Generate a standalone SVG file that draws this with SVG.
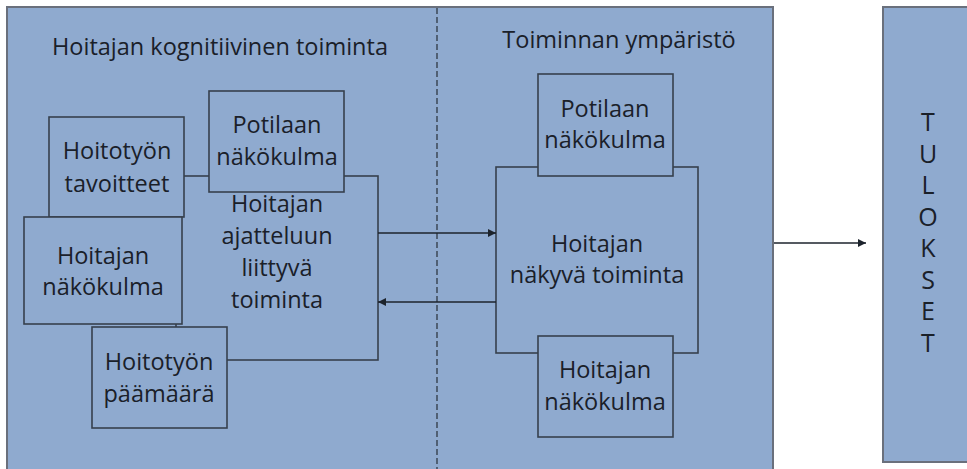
<svg xmlns="http://www.w3.org/2000/svg" width="967" height="469" viewBox="0 0 967 469">
  <defs>
    <marker id="arrow" viewBox="0 0 10 10" refX="10" refY="5" markerWidth="9" markerHeight="8" markerUnits="userSpaceOnUse" orient="auto">
      <path d="M0,0 L10,5 L0,10 z" fill="#1c232c"/>
    </marker>
  </defs>
  <style>
    .panel { fill: #8faacf; stroke: #6a707c; stroke-width: 2; }
    .box { fill: #8faacf; stroke: #36404d; stroke-width: 1.6; }
    .lbl { font-family: "Open Sans", "Noto Sans", sans-serif; font-size: 23.5px; fill: #1a2029; text-anchor: middle; }
    .letter { font-size: 25px; }
    .conn { stroke: #1c232c; stroke-width: 1.3; fill: none; }
    .divider { stroke: #36404d; stroke-width: 1.4; stroke-dasharray: 6 3; }
  </style>
  <rect width="967" height="469" fill="#ffffff"/>

  <!-- main panel -->
  <g id="panel">
    <rect class="panel" x="7" y="7" width="766" height="470"/>
    <line class="divider" x1="437" y1="8" x2="437" y2="469"/>
    <text class="lbl" x="220" y="55">Hoitajan kognitiivinen toiminta</text>
    <text class="lbl" x="619" y="48">Toiminnan ympäristö</text>
  </g>

  <!-- left side: cognitive activity -->
  <g id="ajattelu">
    <rect class="box" x="176" y="176" width="202" height="184"/>
    <text class="lbl" x="277" y="212">Hoitajan</text>
    <text class="lbl" x="277" y="244">ajatteluun</text>
    <text class="lbl" x="277" y="276">liittyvä</text>
    <text class="lbl" x="277" y="308">toiminta</text>
  </g>
  <g id="tavoitteet">
    <rect class="box" x="49" y="117" width="135" height="100"/>
    <text class="lbl" x="117" y="159">Hoitotyön</text>
    <text class="lbl" x="117" y="192">tavoitteet</text>
  </g>
  <g id="potilas-vasen">
    <rect class="box" x="209" y="91" width="135" height="101"/>
    <text class="lbl" x="277" y="133">Potilaan</text>
    <text class="lbl" x="277" y="165">näkökulma</text>
  </g>
  <g id="hoitaja-vasen">
    <rect class="box" x="24" y="217" width="158" height="107"/>
    <text class="lbl" x="103" y="264">Hoitajan</text>
    <text class="lbl" x="103" y="295">näkökulma</text>
  </g>
  <g id="paamaara">
    <rect class="box" x="92" y="327" width="135" height="101"/>
    <text class="lbl" x="159" y="370">Hoitotyön</text>
    <text class="lbl" x="159" y="402">päämäärä</text>
  </g>

  <!-- right side: environment -->
  <g id="nakyva">
    <rect class="box" x="496" y="167" width="202" height="186"/>
    <text class="lbl" x="597" y="252">Hoitajan</text>
    <text class="lbl" x="597" y="283">näkyvä toiminta</text>
  </g>
  <g id="potilas-oikea">
    <rect class="box" x="538" y="74" width="135" height="102"/>
    <text class="lbl" x="605" y="117">Potilaan</text>
    <text class="lbl" x="605" y="148">näkökulma</text>
  </g>
  <g id="hoitaja-oikea">
    <rect class="box" x="538" y="336" width="135" height="101"/>
    <text class="lbl" x="605" y="378">Hoitajan</text>
    <text class="lbl" x="605" y="410">näkökulma</text>
  </g>

  <!-- results -->
  <g id="tulokset">
    <rect class="panel" x="883" y="7" width="86" height="455"/>
    <text class="lbl letter" x="928" y="131">T</text>
    <text class="lbl letter" x="928" y="163">U</text>
    <text class="lbl letter" x="928" y="194">L</text>
    <text class="lbl letter" x="928" y="226">O</text>
    <text class="lbl letter" x="928" y="257">K</text>
    <text class="lbl letter" x="928" y="289">S</text>
    <text class="lbl letter" x="928" y="320">E</text>
    <text class="lbl letter" x="928" y="352">T</text>
  </g>

  <!-- connectors -->
  <g id="connectors">
    <line class="conn" x1="378" y1="233" x2="496" y2="233" marker-end="url(#arrow)"/>
    <line class="conn" x1="496" y1="302" x2="378" y2="302" marker-end="url(#arrow)"/>
    <line class="conn" x1="774" y1="243" x2="866" y2="243" marker-end="url(#arrow)"/>
  </g>
</svg>
